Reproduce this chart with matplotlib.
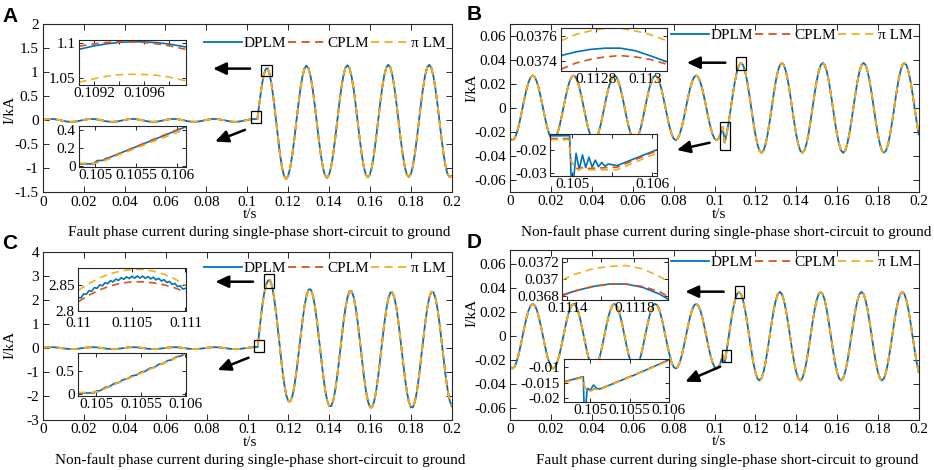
import numpy as np
import matplotlib
matplotlib.use("Agg")
import matplotlib.pyplot as plt
from matplotlib.patches import Rectangle

plt.rcParams["font.family"] = ["Liberation Serif", "DejaVu Serif"]
plt.rcParams["axes.unicode_minus"] = False

BLUE = "#0072BD"
RED = "#D95319"
YELLOW = "#EDB120"
DASH = (0, (4.5, 3))
FS = 11
W, H = 934, 470

# ---------------- main waveforms (kA), sampled every 1 ms from 0 to 0.2 s
t_main = np.linspace(0, 0.2, 201)

i_a = [
    0.0093, 0.0176, 0.0243, 0.0285, 0.030, 0.0285, 0.0243, 0.0176, 0.0093, 0.0, -0.0093, -0.0176, -0.0243, -0.0285, -0.030, -0.0285, -0.0243, -0.0176, -0.0093, 0.0,
    0.0093, 0.0176, 0.0243, 0.0285, 0.030, 0.0285, 0.0243, 0.0176, 0.0093, 0.0, -0.0093, -0.0176, -0.0243, -0.0285, -0.030, -0.0285, -0.0243, -0.0176, -0.0093, 0.0,
    0.0093, 0.0176, 0.0243, 0.0285, 0.030, 0.0285, 0.0243, 0.0176, 0.0093, 0.0, -0.0093, -0.0176, -0.0243, -0.0285, -0.030, -0.0285, -0.0243, -0.0176, -0.0093, 0.0,
    0.0093, 0.0176, 0.0243, 0.0285, 0.030, 0.0285, 0.0243, 0.0176, 0.0093, 0.0, -0.0093, -0.0176, -0.0243, -0.0285, -0.030, -0.0285, -0.0243, -0.0176, -0.0093, 0.0,
    0.0093, 0.0176, 0.0243, 0.0285, 0.030, 0.0285, 0.0243, 0.0176, 0.0093, 0.0, -0.0093, -0.0176, -0.0243, -0.0285, -0.030, -0.0285, -0.0243, -0.0176, -0.0093, 0.0,
    0.0093, 0.0176, 0.0243, 0.0285, 0.030, 0.030, 0.37, 0.69, 0.93, 1.07, 1.09, 0.96, 0.725, 0.406, 0.035, -0.344, -0.696, -0.975, -1.157, -1.22,
    -1.162, -0.995, -0.734, -0.405, -0.04, 0.325, 0.654, 0.915, 1.082, 1.14, 1.083, 0.917, 0.658, 0.332, -0.03, -0.392, -0.718, -0.977, -1.143, -1.20,
    -1.142, -0.976, -0.716, -0.388, -0.025, 0.338, 0.666, 0.926, 1.092, 1.15, 1.093, 0.927, 0.668, 0.342, -0.02, -0.382, -0.708, -0.967, -1.133, -1.19,
    -1.132, -0.966, -0.706, -0.378, -0.015, 0.348, 0.676, 0.936, 1.102, 1.16, 1.103, 0.937, 0.678, 0.352, -0.01, -0.372, -0.698, -0.957, -1.123, -1.18,
    -1.123, -0.957, -0.698, -0.372, -0.01, 0.352, 0.678, 0.937, 1.103, 1.16, 1.103, 0.937, 0.678, 0.352, -0.01, -0.372, -0.698, -0.957, -1.123, -1.18,
    -1.16,
]

i_b = [
    -0.0257, -0.027, -0.0257, -0.0218, -0.0159, -0.0083, 0.0, 0.0083, 0.0159, 0.0218, 0.0257, 0.027, 0.0257, 0.0218, 0.0159, 0.0083, 0.0, -0.0083, -0.0159, -0.0218,
    -0.0257, -0.027, -0.0257, -0.0218, -0.0159, -0.0083, 0.0, 0.0083, 0.0159, 0.0218, 0.0257, 0.027, 0.0257, 0.0218, 0.0159, 0.0083, 0.0, -0.0083, -0.0159, -0.0218,
    -0.0257, -0.027, -0.0257, -0.0218, -0.0159, -0.0083, 0.0, 0.0083, 0.0159, 0.0218, 0.0257, 0.027, 0.0257, 0.0218, 0.0159, 0.0083, 0.0, -0.0083, -0.0159, -0.0218,
    -0.0257, -0.027, -0.0257, -0.0218, -0.0159, -0.0083, 0.0, 0.0083, 0.0159, 0.0218, 0.0257, 0.027, 0.0257, 0.0218, 0.0159, 0.0083, 0.0, -0.0083, -0.0159, -0.0218,
    -0.0257, -0.027, -0.0257, -0.0218, -0.0159, -0.0083, 0.0, 0.0083, 0.0159, 0.0218, 0.0257, 0.027, 0.0257, 0.0218, 0.0159, 0.0083, 0.0, -0.0083, -0.0159, -0.0218,
    -0.0257, -0.027, -0.0257, -0.0218, -0.0159, -0.029, -0.021, -0.0116, 0.0, 0.0116, 0.0221, 0.0303, 0.0357, 0.0375, 0.0357, 0.0303, 0.0221, 0.0116, 0.0, -0.0116,
    -0.0221, -0.0303, -0.0357, -0.0375, -0.0357, -0.0303, -0.0221, -0.0116, 0.0, 0.0116, 0.0221, 0.0303, 0.0357, 0.0375, 0.0357, 0.0303, 0.0221, 0.0116, 0.0, -0.0116,
    -0.0221, -0.0303, -0.0357, -0.0375, -0.0357, -0.0303, -0.0221, -0.0116, 0.0, 0.0116, 0.0221, 0.0303, 0.0357, 0.0375, 0.0357, 0.0303, 0.0221, 0.0116, 0.0, -0.0116,
    -0.0221, -0.0303, -0.0357, -0.0375, -0.0357, -0.0303, -0.0221, -0.0116, 0.0, 0.0116, 0.0221, 0.0303, 0.0357, 0.0375, 0.0357, 0.0303, 0.0221, 0.0116, 0.0, -0.0116,
    -0.0221, -0.0303, -0.0357, -0.0375, -0.0357, -0.0303, -0.0221, -0.0116, 0.0, 0.0116, 0.0221, 0.0303, 0.0357, 0.0375, 0.0357, 0.0303, 0.0221, 0.0116, 0.0, -0.0116,
    -0.0221,
]

i_c = [
    0.0124, 0.0235, 0.0324, 0.038, 0.04, 0.038, 0.0324, 0.0235, 0.0124, 0.0, -0.0124, -0.0235, -0.0324, -0.038, -0.04, -0.038, -0.0324, -0.0235, -0.0124, 0.0,
    0.0124, 0.0235, 0.0324, 0.038, 0.04, 0.038, 0.0324, 0.0235, 0.0124, 0.0, -0.0124, -0.0235, -0.0324, -0.038, -0.04, -0.038, -0.0324, -0.0235, -0.0124, 0.0,
    0.0124, 0.0235, 0.0324, 0.038, 0.04, 0.038, 0.0324, 0.0235, 0.0124, 0.0, -0.0124, -0.0235, -0.0324, -0.038, -0.04, -0.038, -0.0324, -0.0235, -0.0124, 0.0,
    0.0124, 0.0235, 0.0324, 0.038, 0.04, 0.038, 0.0324, 0.0235, 0.0124, 0.0, -0.0124, -0.0235, -0.0324, -0.038, -0.04, -0.038, -0.0324, -0.0235, -0.0124, 0.0,
    0.0124, 0.0235, 0.0324, 0.038, 0.04, 0.038, 0.0324, 0.0235, 0.0124, 0.0, -0.0124, -0.0235, -0.0324, -0.038, -0.04, -0.038, -0.0324, -0.0235, -0.0124, 0.0,
    0.0124, 0.0235, 0.0324, 0.038, 0.04, 0.05, 0.87, 1.62, 2.21, 2.61, 2.82, 2.84, 2.591, 2.120, 1.472, 0.709, -0.089, -0.852, -1.500, -1.971,
    -2.219, -2.222, -1.992, -1.557, -0.959, -0.254, 0.484, 1.189, 1.787, 2.222, 2.452, 2.450, 2.211, 1.758, 1.134, 0.400, -0.370, -1.104, -1.728, -2.181,
    -2.420, -2.421, -2.186, -1.739, -1.126, -0.403, 0.353, 1.076, 1.689, 2.136, 2.371, 2.371, 2.133, 1.682, 1.062, 0.332, -0.432, -1.162, -1.782, -2.233,
    -2.471, -2.471, -2.236, -1.789, -1.176, -0.453, 0.303, 1.026, 1.639, 2.086, 2.321, 2.321, 2.086, 1.639, 1.026, 0.303, -0.453, -1.176, -1.789, -2.236,
    -2.471, -2.471, -2.235, -1.787, -1.170, -0.445, 0.315, 1.040, 1.657, 2.105, 2.341, 2.341, 2.107, 1.664, 1.054, 0.336, -0.416, -1.134, -1.744, -2.187,
    -2.421,
]

i_d = [
    -0.0257, -0.027, -0.0257, -0.0218, -0.0159, -0.0083, 0.0, 0.0083, 0.0159, 0.0218, 0.0257, 0.027, 0.0257, 0.0218, 0.0159, 0.0083, 0.0, -0.0083, -0.0159, -0.0218,
    -0.0257, -0.027, -0.0257, -0.0218, -0.0159, -0.0083, 0.0, 0.0083, 0.0159, 0.0218, 0.0257, 0.027, 0.0257, 0.0218, 0.0159, 0.0083, 0.0, -0.0083, -0.0159, -0.0218,
    -0.0257, -0.027, -0.0257, -0.0218, -0.0159, -0.0083, 0.0, 0.0083, 0.0159, 0.0218, 0.0257, 0.027, 0.0257, 0.0218, 0.0159, 0.0083, 0.0, -0.0083, -0.0159, -0.0218,
    -0.0257, -0.027, -0.0257, -0.0218, -0.0159, -0.0083, 0.0, 0.0083, 0.0159, 0.0218, 0.0257, 0.027, 0.0257, 0.0218, 0.0159, 0.0083, 0.0, -0.0083, -0.0159, -0.0218,
    -0.0257, -0.027, -0.0257, -0.0218, -0.0159, -0.0083, 0.0, 0.0083, 0.0159, 0.0218, 0.0257, 0.027, 0.0257, 0.0218, 0.0159, 0.0083, 0.0, -0.0083, -0.0159, -0.0218,
    -0.0257, -0.027, -0.0257, -0.0218, -0.0159, -0.0218, -0.0114, 0.0, 0.0114, 0.0218, 0.0299, 0.0352, 0.037, 0.0352, 0.0299, 0.0218, 0.0114, 0.0, -0.0114, -0.0218,
    -0.0299, -0.0352, -0.037, -0.0352, -0.0299, -0.0218, -0.0114, 0.0, 0.0114, 0.0218, 0.0299, 0.0352, 0.037, 0.0352, 0.0299, 0.0218, 0.0114, 0.0, -0.0114, -0.0218,
    -0.0299, -0.0352, -0.037, -0.0352, -0.0299, -0.0218, -0.0114, 0.0, 0.0114, 0.0218, 0.0299, 0.0352, 0.037, 0.0352, 0.0299, 0.0218, 0.0114, 0.0, -0.0114, -0.0218,
    -0.0299, -0.0352, -0.037, -0.0352, -0.0299, -0.0218, -0.0114, 0.0, 0.0114, 0.0218, 0.0299, 0.0352, 0.037, 0.0352, 0.0299, 0.0218, 0.0114, 0.0, -0.0114, -0.0218,
    -0.0299, -0.0352, -0.037, -0.0352, -0.0299, -0.0218, -0.0114, 0.0, 0.0114, 0.0218, 0.0299, 0.0352, 0.037, 0.0352, 0.0299, 0.0218, 0.0114, 0.0, -0.0114, -0.0218,
    -0.0299,
]
# initial jump at t = 0 in panel D
d_start_t = [0.0, 0.0]
d_start_i = [-0.007, -0.047]

# ---------------- zoomed details: (time, DPLM, CPLM, pi LM)
a_top_t = [0.10908, 0.1092, 0.1093, 0.1094, 0.1095, 0.1096, 0.1097, 0.1098, 0.10993]
a_top_dplm = [1.0915, 1.0965, 1.0995, 1.1015, 1.1024, 1.1023, 1.1012, 1.0992, 1.0950]
a_top_cplm = [1.0960, 1.0995, 1.1014, 1.1024, 1.1024, 1.1014, 1.0995, 1.0967, 1.0915]
a_top_pilm = [1.0440, 1.0490, 1.0525, 1.0548, 1.0555, 1.0552, 1.0540, 1.0515, 1.0460]

a_bot_t_dplm = [0.1048, 0.10495, 0.10498, 0.10502, 0.10508, 0.1051, 0.10513, 0.10516, 0.1053, 0.1055, 0.1057, 0.1059, 0.1061]
a_bot_dplm = [0.025, 0.025, 0.025, 0.06, 0.062, 0.065, 0.085, 0.09, 0.141, 0.213, 0.285, 0.358, 0.430]
a_bot_t = [0.1048, 0.10498, 0.10502, 0.1051, 0.10516, 0.1053, 0.1055, 0.1057, 0.1059, 0.1061]
a_bot_cplm = [0.027, 0.027, 0.05, 0.065, 0.085, 0.14, 0.215, 0.29, 0.362, 0.435]
a_bot_pilm = [0.03, 0.03, 0.035, 0.055, 0.075, 0.128, 0.198, 0.268, 0.336, 0.405]

b_top_t = [0.11266, 0.11272, 0.11278, 0.11284, 0.1129, 0.11296, 0.11302, 0.11309]
b_top_dplm = [0.03744, 0.03747, 0.03749, 0.03750, 0.03750, 0.03748, 0.03744, 0.03739]
b_top_cplm = [0.03733, 0.03738, 0.03741, 0.03743, 0.03744, 0.03743, 0.03741, 0.03737]
b_top_pilm = [0.03756, 0.03761, 0.03764, 0.03766, 0.03766, 0.03764, 0.03761, 0.03756]

b_bot_t_dplm = [0.10473, 0.10497, 0.10499, 0.10502, 0.10505, 0.10509, 0.10513, 0.10517, 0.10521,
                0.10525, 0.10529, 0.10533, 0.10537, 0.10541, 0.10545, 0.10556, 0.10605]
b_bot_dplm = [-0.0138, -0.0137, -0.0330, -0.0330, -0.0215, -0.0285, -0.0222, -0.0278, -0.0232,
              -0.0276, -0.0245, -0.0274, -0.0255, -0.0272, -0.0262, -0.0269, -0.0200]
b_bot_t = [0.10473, 0.10496, 0.10499, 0.10503, 0.10508, 0.10513, 0.1052, 0.1053, 0.10556, 0.10605]
b_bot_cplm = [-0.0150, -0.0150, -0.0255, -0.0274, -0.0286, -0.0276, -0.0282, -0.0280, -0.0276, -0.0204]
b_bot_pilm = [-0.0155, -0.0155, -0.0250, -0.0272, -0.0290, -0.0280, -0.0288, -0.0288, -0.0287, -0.0215]

c_top_t_dplm = np.linspace(0.110, 0.111, 41)
c_top_dplm = [2.826, 2.8256, 2.8331, 2.8325, 2.8396, 2.8386, 2.8455, 2.8441, 2.8506, 2.8490,
              2.8551, 2.8531, 2.8589, 2.8566, 2.8621, 2.8594, 2.8646, 2.8616, 2.8664, 2.8630,
              2.8675, 2.8638, 2.8680, 2.8640, 2.8678, 2.8635, 2.8670, 2.8624, 2.8656, 2.8606,
              2.8635, 2.8583, 2.8609, 2.8553, 2.8576, 2.8517, 2.8537, 2.8475, 2.8491, 2.8426,
              2.844]
c_top_t = [0.110, 0.1101, 0.1102, 0.1103, 0.1104, 0.1105, 0.1106, 0.1107, 0.1108, 0.1109, 0.111]
c_top_cplm = [2.818, 2.8309, 2.8412, 2.8489, 2.8541, 2.8567, 2.8568, 2.8548, 2.8508, 2.8449, 2.837]
c_top_pilm = [2.840, 2.8536, 2.8644, 2.8725, 2.878, 2.8807, 2.8806, 2.8776, 2.8714, 2.8623, 2.850]

c_bot_t_dplm = [0.1048, 0.1049, 0.10497, 0.1050, 0.10505, 0.1051, 0.10515, 0.1052, 0.10525, 0.1053,
                0.10535, 0.1054, 0.10545, 0.1055, 0.10555, 0.1056, 0.10565, 0.1057, 0.10575,
                0.1058, 0.10585, 0.1059, 0.10595, 0.1060]
c_bot_dplm = [0.03, 0.03, 0.03, 0.066, 0.083, 0.148, 0.165, 0.230, 0.246, 0.311, 0.328, 0.393,
              0.410, 0.474, 0.491, 0.556, 0.573, 0.638, 0.654, 0.719, 0.736, 0.801, 0.818, 0.870]
c_bot_t = [0.1048, 0.10495, 0.10503, 0.1051, 0.1060]
c_bot_cplm = [0.03, 0.03, 0.06, 0.13, 0.868]
c_bot_pilm = [0.04, 0.04, 0.062, 0.125, 0.862]

d_top_t = [0.11137, 0.11145, 0.11155, 0.11165, 0.11175, 0.11185, 0.11195, 0.1120]
d_top_dplm = [0.03681, 0.03686, 0.03691, 0.03694, 0.03694, 0.03690, 0.03682, 0.03676]
d_top_cplm = [0.03680, 0.03686, 0.03691, 0.03694, 0.03694, 0.03691, 0.03685, 0.03679]
d_top_pilm = [0.03699, 0.03706, 0.03712, 0.03715, 0.03716, 0.03712, 0.03703, 0.03697]

d_bot_t_dplm = [0.10466, 0.10491, 0.10492, 0.10494, 0.10496, 0.10500, 0.10504, 0.10508, 0.10512, 0.1056, 0.1060]
d_bot_dplm = [-0.0147, -0.0130, -0.0230, -0.0230, -0.0168, -0.0174, -0.0157, -0.0168, -0.0170, -0.0121, -0.0076]
d_bot_t = [0.10466, 0.10491, 0.10493, 0.10500, 0.10505, 0.10512, 0.1060]
d_bot_cplm = [-0.0148, -0.0131, -0.0170, -0.0175, -0.0170, -0.0171, -0.0077]
d_bot_pilm = [-0.0150, -0.0133, -0.0172, -0.0177, -0.0171, -0.0172, -0.0079]

x_ticks = [0, 0.02, 0.04, 0.06, 0.08, 0.1, 0.12, 0.14, 0.16, 0.18, 0.2]
a_yticks = [-1.5, -1, -0.5, 0, 0.5, 1, 1.5, 2]
b_yticks = [-0.06, -0.04, -0.02, 0, 0.02, 0.04, 0.06]
c_yticks = [-3, -2, -1, 0, 1, 2, 3, 4]
d_yticks = [-0.06, -0.04, -0.02, 0, 0.02, 0.04, 0.06]
legend_labels = ["DPLM", "CPLM", "\u03c0 LM"]

captions = [
    "Fault phase current during single-phase short-circuit to ground",
    "Non-fault phase current during single-phase short-circuit to ground",
    "Non-fault phase current during single-phase short-circuit to ground",
    "Fault phase current during single-phase short-circuit to ground",
]


def lbl(v):
    return "%g" % round(v, 6)


def px_axes(fig, box):
    x0, y0, x1, y1 = box
    return fig.add_axes([x0 / W, 1 - y1 / H, (x1 - x0) / W, (y1 - y0) / H])


def style(ax, xt, xl, yt, yl, length, xpad, ypad):
    ax.set_xticks(xt)
    ax.set_xticklabels(xl)
    ax.set_yticks(yt)
    ax.set_yticklabels(yl)
    ax.tick_params(direction="in", top=True, right=True, length=length, width=0.7,
                   color="#262626", labelsize=FS, labelcolor="black")
    ax.tick_params(axis="x", pad=xpad)
    ax.tick_params(axis="y", pad=ypad)
    for s in ax.spines.values():
        s.set_linewidth(0.8)
        s.set_color("#262626")


def main_panel(box, i_main, ylim, yticks, leg_y):
    ax = px_axes(fig, box)
    h1, = ax.plot(t_main, i_main, color=BLUE, lw=1.3)
    h2, = ax.plot(t_main, i_main, color=RED, lw=1.3, ls=DASH)
    h3, = ax.plot(t_main, i_main, color=YELLOW, lw=1.3, ls=DASH)
    ax.set_xlim(0, 0.2)
    ax.set_ylim(*ylim)
    style(ax, x_ticks, [lbl(v) for v in x_ticks], yticks, [lbl(v) for v in yticks], 4, 2.5, 3)
    ax.legend([h1, h2, h3], legend_labels, ncol=3, loc="center right",
              bbox_to_anchor=(0.985, leg_y), frameon=False, fontsize=FS,
              handlelength=2.5, handletextpad=0.12, columnspacing=0.1,
              borderpad=0, borderaxespad=0)
    return ax


def inset(box, t_d, v_d, t_o, v_c, v_p, xlim, ylim, xt, xl, yt, xpad=1.5):
    ax = px_axes(fig, box)
    ax.set_facecolor("white")
    ax.plot(t_d, v_d, color=BLUE, lw=1.2)
    ax.plot(t_o, v_c, color=RED, lw=1.2, ls=DASH)
    ax.plot(t_o, v_p, color=YELLOW, lw=1.2, ls=DASH)
    ax.set_xlim(*xlim)
    ax.set_ylim(*ylim)
    style(ax, xt, xl, yt, [lbl(v) for v in yt], 3, xpad, 2.5)
    return ax


def mark(ax, rect, tail, head):
    (x0, y0), (x1, y1) = rect
    ax.add_patch(Rectangle((x0, y0), x1 - x0, y1 - y0, fill=False, ec="black", lw=0.9, zorder=6))
    ax.annotate("", xy=head, xytext=tail,
                arrowprops=dict(arrowstyle="-|>,head_length=0.6,head_width=0.28", color="black",
                                lw=1.8, mutation_scale=13, shrinkA=0, shrinkB=0), zorder=6)


fig = plt.figure(figsize=(W / 100, H / 100), dpi=100)

# ---- A
ax_a = main_panel((42.7, 24.5, 451.7, 192.3), i_a, (-1.5, 2), a_yticks, 0.886)
mark(ax_a, ((0.1068, 0.933), (0.1120, 1.163)), (0.1014, 1.08), (0.0833, 1.08))
mark(ax_a, ((0.1017, -0.057), (0.1067, 0.186)), (0.0989, -0.197), (0.0843, -0.441))
inset((79, 40, 185.5, 85), a_top_t, a_top_dplm, a_top_t, a_top_cplm, a_top_pilm,
      (0.10908, 0.10993), (1.04, 1.105),
      [0.1092, 0.1094, 0.1096, 0.1098], ["0.1092", "", "0.1096", ""], [1.05, 1.1])
inset((79, 126, 185.5, 167), a_bot_t_dplm, a_bot_dplm, a_bot_t, a_bot_cplm, a_bot_pilm,
      (0.1048, 0.1061), (-0.01, 0.44),
      [0.105, 0.1055, 0.106], ["0.105", "0.1055", "0.106"], [0, 0.2, 0.4])

# ---- B
ax_b = main_panel((510.3, 24, 918.7, 191.7), i_b, (-0.07, 0.07), b_yticks, 0.934)
mark(ax_b, ((0.11038, 0.0316), (0.11557, 0.0422)), (0.1053, 0.0377), (0.0865, 0.0377))
mark(ax_b, ((0.10284, -0.0352), (0.10744, -0.0116)), (0.0976, -0.0291), (0.0816, -0.0352))
inset((561, 28.3, 667, 70.5), b_top_t, b_top_dplm, b_top_t, b_top_cplm, b_top_pilm,
      (0.11266, 0.11309), (0.03732, 0.03766),
      [0.1128, 0.113], ["0.1128", "0.113"], [0.0374, 0.0376])
inset((550.3, 134.3, 656.5, 176), b_bot_t_dplm, b_bot_dplm, b_bot_t, b_bot_cplm, b_bot_pilm,
      (0.10473, 0.10605), (-0.0315, -0.0131),
      [0.105, 0.1055, 0.106], ["0.105", "", "0.106"], [-0.03, -0.02])

# ---- C
ax_c = main_panel((43.3, 252.3, 451.7, 420), i_c, (-3, 4), c_yticks, 0.905)
mark(ax_c, ((0.10787, 2.497), (0.1131, 3.082)), (0.1027, 2.773), (0.0843, 2.773))
mark(ax_c, ((0.1030, -0.149), (0.1079, 0.339)), (0.1005, -0.399), (0.0854, -0.913))
inset((78.3, 268.3, 185.5, 311), c_top_t_dplm, c_top_dplm, c_top_t, c_top_cplm, c_top_pilm,
      (0.110, 0.111), (2.8, 2.883),
      [0.11, 0.1105, 0.111], ["0.11", "0.1105", "0.111"], [2.8, 2.85], xpad=4)
inset((78.3, 353, 185.5, 396), c_bot_t_dplm, c_bot_dplm, c_bot_t, c_bot_cplm, c_bot_pilm,
      (0.1048, 0.106), (-0.035, 0.88),
      [0.105, 0.1055, 0.106], ["0.105", "0.1055", "0.106"], [0, 0.5])

# ---- D
ax_d = main_panel((510.3, 250, 918.7, 420), i_d, (-0.07, 0.072), d_yticks, 0.928)
ax_d.plot(d_start_t, d_start_i, color=BLUE, lw=1.3)
ax_d.plot(d_start_t, d_start_i, color=YELLOW, lw=1.3, ls=DASH)
mark(ax_d, ((0.1099, 0.0317), (0.1146, 0.0422)), (0.1045, 0.0372), (0.0857, 0.0372))
mark(ax_d, ((0.1037, -0.0218), (0.1083, -0.0115)), (0.1028, -0.0254), (0.0857, -0.038))
inset((562.3, 258, 668, 300), d_top_t, d_top_dplm, d_top_t, d_top_cplm, d_top_pilm,
      (0.11137, 0.1120), (0.03675, 0.03725),
      [0.1114, 0.1116, 0.1118, 0.112], ["0.1114", "", "0.1118", ""], [0.0368, 0.037, 0.0372])
inset((563.7, 359, 668.7, 401.7), d_bot_t_dplm, d_bot_dplm, d_bot_t, d_bot_cplm, d_bot_pilm,
      (0.10466, 0.106), (-0.0211, -0.0073),
      [0.105, 0.1055, 0.106], ["0.105", "0.1055", "0.106"], [-0.02, -0.015, -0.01])

# ---- texts
def ftext(x, y, s, **kw):
    fig.text(x / W, 1 - y / H, s, **kw)


for (cx, cy), s in zip([(259, 236), (726, 236), (260, 464), (727, 464)], captions):
    ftext(cx, cy, s, ha="center", va="baseline", fontsize=FS)
for cx, cy in [(250, 214), (718.7, 214), (250, 442), (718.7, 441.5)]:
    ftext(cx, cy, "t/s", ha="center", va="center", fontsize=FS)
for cx, cy in [(10, 110), (472, 88), (10, 345), (472, 313)]:
    ftext(cx, cy, "I/kA", ha="center", va="center", rotation=90, fontsize=FS)
for (cx, cy), s in zip([(2, 21.5), (467, 20), (2, 249), (467, 248)], "ABCD"):
    ftext(cx, cy, s, ha="left", va="baseline", fontsize=15, fontweight="bold",
          family=["Liberation Sans", "DejaVu Sans"])

fig.savefig("out.png", dpi=100)
